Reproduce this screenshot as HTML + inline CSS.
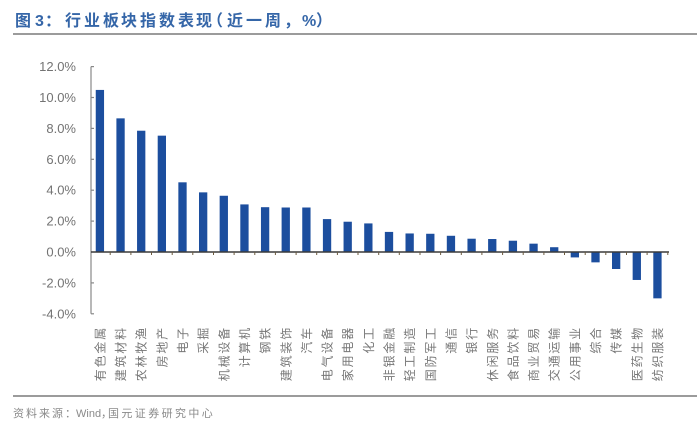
<!DOCTYPE html>
<html><head><meta charset="utf-8"><style>
html,body{margin:0;padding:0;background:#fff;}
svg{display:block;}
</style></head><body>
<svg width="700" height="427" viewBox="0 0 700 427" xmlns="http://www.w3.org/2000/svg">
<rect width="700" height="427" fill="#fff"/>
<!-- title -->
<text y="26" font-family="'Liberation Sans','Noto Sans CJK SC',sans-serif" font-size="16" font-weight="bold" fill="#3566a8" x="15 35 45 65 84 103 121 140 159 178 196 207 227 246 265 284 302 316">图3：行业板块指数表现（近一周，%）</text>
<line x1="13" y1="34" x2="697" y2="34" stroke="#7a7a7a" stroke-width="1.6"/>

<!-- y axis labels -->
<g font-family="'Liberation Sans',sans-serif" font-size="13" fill="#737373" text-anchor="end">
<text x="76" y="71.1">12.0%</text>
<text x="76" y="102">10.0%</text>
<text x="76" y="132.9">8.0%</text>
<text x="76" y="163.8">6.0%</text>
<text x="76" y="194.7">4.0%</text>
<text x="76" y="225.6">2.0%</text>
<text x="76" y="256.5">0.0%</text>
<text x="76" y="287.4">-2.0%</text>
<text x="76" y="318.3">-4.0%</text>
</g>
<!-- y axis -->
<g stroke="#888" stroke-width="1.2">
<line x1="91" y1="66.6" x2="91" y2="313.8"/>
<line x1="91" y1="66.6" x2="94" y2="66.6"/>
<line x1="91" y1="97.5" x2="94" y2="97.5"/>
<line x1="91" y1="128.4" x2="94" y2="128.4"/>
<line x1="91" y1="159.3" x2="94" y2="159.3"/>
<line x1="91" y1="190.2" x2="94" y2="190.2"/>
<line x1="91" y1="221.1" x2="94" y2="221.1"/>
<line x1="91" y1="282.9" x2="94" y2="282.9"/>
<line x1="91" y1="313.8" x2="94" y2="313.8"/>
</g>

<!-- bars -->
<g fill="#1c4e9e">
<rect x="95.75" y="89.93" width="8.3" height="162.07"/>
<rect x="116.4" y="118.36" width="8.3" height="133.64"/>
<rect x="137.05" y="130.72" width="8.3" height="121.28"/>
<rect x="157.7" y="135.66" width="8.3" height="116.34"/>
<rect x="178.35" y="182.32" width="8.3" height="69.68"/>
<rect x="199.0" y="192.36" width="8.3" height="59.64"/>
<rect x="219.65" y="195.76" width="8.3" height="56.24"/>
<rect x="240.3" y="204.41" width="8.3" height="47.59"/>
<rect x="260.95" y="207.19" width="8.3" height="44.81"/>
<rect x="281.6" y="207.5" width="8.3" height="44.5"/>
<rect x="302.25" y="207.5" width="8.3" height="44.5"/>
<rect x="322.9" y="219.09" width="8.3" height="32.91"/>
<rect x="343.55" y="221.72" width="8.3" height="30.28"/>
<rect x="364.2" y="223.42" width="8.3" height="28.58"/>
<rect x="384.85" y="231.91" width="8.3" height="20.09"/>
<rect x="405.5" y="233.46" width="8.3" height="18.54"/>
<rect x="426.15" y="233.77" width="8.3" height="18.23"/>
<rect x="446.8" y="235.78" width="8.3" height="16.22"/>
<rect x="467.45" y="238.71" width="8.3" height="13.29"/>
<rect x="488.1" y="239.02" width="8.3" height="12.98"/>
<rect x="508.75" y="240.72" width="8.3" height="11.28"/>
<rect x="529.4" y="243.66" width="8.3" height="8.34"/>
<rect x="550.05" y="247.21" width="8.3" height="4.79"/>
<rect x="570.7" y="252" width="8.3" height="5.41"/>
<rect x="591.35" y="252" width="8.3" height="10.35"/>
<rect x="612.0" y="252" width="8.3" height="17.0"/>
<rect x="632.65" y="252" width="8.3" height="27.96"/>
<rect x="653.3" y="252" width="8.3" height="46.35"/>
</g>

<!-- zero line + ticks -->
<line x1="91" y1="252" x2="669" y2="252" stroke="#3a3a3a" stroke-width="1.4"/>
<g stroke="#6b5a3e" stroke-width="1">
<line x1="110.2" y1="252" x2="110.2" y2="255"/>
<line x1="130.9" y1="252" x2="130.9" y2="255"/>
<line x1="151.5" y1="252" x2="151.5" y2="255"/>
<line x1="172.2" y1="252" x2="172.2" y2="255"/>
<line x1="192.8" y1="252" x2="192.8" y2="255"/>
<line x1="213.5" y1="252" x2="213.5" y2="255"/>
<line x1="234.1" y1="252" x2="234.1" y2="255"/>
<line x1="254.8" y1="252" x2="254.8" y2="255"/>
<line x1="275.4" y1="252" x2="275.4" y2="255"/>
<line x1="296.1" y1="252" x2="296.1" y2="255"/>
<line x1="316.7" y1="252" x2="316.7" y2="255"/>
<line x1="337.4" y1="252" x2="337.4" y2="255"/>
<line x1="358.0" y1="252" x2="358.0" y2="255"/>
<line x1="378.7" y1="252" x2="378.7" y2="255"/>
<line x1="399.3" y1="252" x2="399.3" y2="255"/>
<line x1="420.0" y1="252" x2="420.0" y2="255"/>
<line x1="440.6" y1="252" x2="440.6" y2="255"/>
<line x1="461.3" y1="252" x2="461.3" y2="255"/>
<line x1="481.9" y1="252" x2="481.9" y2="255"/>
<line x1="502.6" y1="252" x2="502.6" y2="255"/>
<line x1="523.2" y1="252" x2="523.2" y2="255"/>
<line x1="543.9" y1="252" x2="543.9" y2="255"/>
<line x1="564.5" y1="252" x2="564.5" y2="255"/>
<line x1="585.2" y1="252" x2="585.2" y2="255"/>
<line x1="605.8" y1="252" x2="605.8" y2="255"/>
<line x1="626.5" y1="252" x2="626.5" y2="255"/>
<line x1="647.1" y1="252" x2="647.1" y2="255"/>
<line x1="667.8" y1="252" x2="667.8" y2="255"/>
</g>

<!-- category labels -->
<g font-family="'Liberation Sans','Noto Sans CJK SC',sans-serif" font-size="12" fill="#777" text-anchor="end" letter-spacing="1.8">
<text transform="translate(104.4,326) rotate(-90)">有色金属</text>
<text transform="translate(125.05,326) rotate(-90)">建筑材料</text>
<text transform="translate(145.7,326) rotate(-90)">农林牧渔</text>
<text transform="translate(166.35,326) rotate(-90)">房地产</text>
<text transform="translate(187.0,326) rotate(-90)">电子</text>
<text transform="translate(207.65,326) rotate(-90)">采掘</text>
<text transform="translate(228.3,326) rotate(-90)">机械设备</text>
<text transform="translate(248.95,326) rotate(-90)">计算机</text>
<text transform="translate(269.6,326) rotate(-90)">钢铁</text>
<text transform="translate(290.25,326) rotate(-90)">建筑装饰</text>
<text transform="translate(310.9,326) rotate(-90)">汽车</text>
<text transform="translate(331.55,326) rotate(-90)">电气设备</text>
<text transform="translate(352.2,326) rotate(-90)">家用电器</text>
<text transform="translate(372.85,326) rotate(-90)">化工</text>
<text transform="translate(393.5,326) rotate(-90)">非银金融</text>
<text transform="translate(414.15,326) rotate(-90)">轻工制造</text>
<text transform="translate(434.8,326) rotate(-90)">国防军工</text>
<text transform="translate(455.45,326) rotate(-90)">通信</text>
<text transform="translate(476.1,326) rotate(-90)">银行</text>
<text transform="translate(496.75,326) rotate(-90)">休闲服务</text>
<text transform="translate(517.4,326) rotate(-90)">食品饮料</text>
<text transform="translate(538.05,326) rotate(-90)">商业贸易</text>
<text transform="translate(558.7,326) rotate(-90)">交通运输</text>
<text transform="translate(579.35,326) rotate(-90)">公用事业</text>
<text transform="translate(600.0,326) rotate(-90)">综合</text>
<text transform="translate(620.65,326) rotate(-90)">传媒</text>
<text transform="translate(641.3,326) rotate(-90)">医药生物</text>
<text transform="translate(661.95,326) rotate(-90)">纺织服装</text>
</g>

<!-- footer -->
<line x1="13" y1="396" x2="697" y2="396" stroke="#7a7a7a" stroke-width="1.4"/>
<g font-family="'Liberation Sans','Noto Sans CJK SC',sans-serif" font-size="11" fill="#8a8a8a">
<text x="13" y="417" letter-spacing="2">资料来源：</text>
<text x="76" y="417">Wind，</text>
<text x="108" y="417" letter-spacing="2.4">国元证券研究中心</text>
</g>
</svg>
</body></html>
